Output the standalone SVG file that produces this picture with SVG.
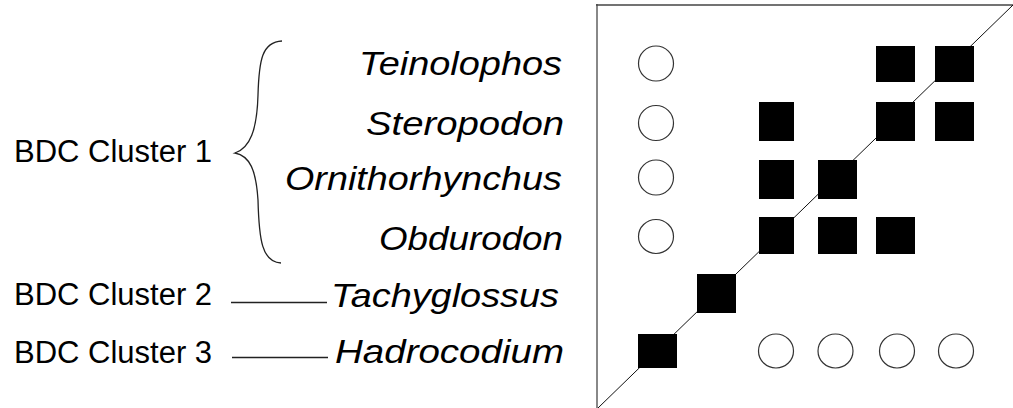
<svg xmlns="http://www.w3.org/2000/svg" width="1013" height="408" viewBox="0 0 1013 408">
<style>
.taxon{font-family:"Liberation Sans",Arial,sans-serif;font-style:italic;font-size:33px;fill:#000}
.clabel{font-family:"Liberation Sans",Arial,sans-serif;font-size:31px;fill:#000}
.sq{fill:#000}
.ci{fill:#fff;stroke:#333;stroke-width:1.2}
.conn{fill:none;stroke:#222;stroke-width:1.3}
</style>
<rect width="1013" height="408" fill="#fff"/>
<g id="frame">
<line x1="597" y1="4" x2="597" y2="408" stroke="#888" stroke-width="2"/>
<line x1="596" y1="5" x2="1013" y2="5" stroke="#444" stroke-width="1.6"/>
<line x1="1013" y1="5" x2="598" y2="408" stroke="#111" stroke-width="1"/>
</g>
<g id="connectors">
<path class="conn" d="M282,41 C262,42 259,60 258,95 C257,130 250,148 235,153 C250,156 256,170 258,200 C259,240 262,262 281,263"/>
<line class="conn" x1="231" y1="302.5" x2="327" y2="302.5"/>
<line class="conn" x1="232" y1="357.5" x2="328" y2="357.5"/>
</g>
<g id="labels">
<text class="clabel" x="14" y="162">BDC Cluster 1</text>
<text class="clabel" x="14" y="305">BDC Cluster 2</text>
<text class="clabel" x="14" y="363">BDC Cluster 3</text>
</g>
<g id="taxa">
<text id="teinolophos" class="taxon" x="359" y="75" textLength="203" lengthAdjust="spacingAndGlyphs">Teinolophos</text>
<text id="steropodon" class="taxon" x="366" y="135" textLength="198" lengthAdjust="spacingAndGlyphs">Steropodon</text>
<text id="ornithorhynchus" class="taxon" x="285" y="190" textLength="277" lengthAdjust="spacingAndGlyphs">Ornithorhynchus</text>
<text id="obdurodon" class="taxon" x="379" y="250" textLength="184" lengthAdjust="spacingAndGlyphs">Obdurodon</text>
<text id="tachyglossus" class="taxon" x="331" y="306.5" textLength="228" lengthAdjust="spacingAndGlyphs">Tachyglossus</text>
<text id="hadrocodium" class="taxon" x="335" y="362.5" textLength="229" lengthAdjust="spacingAndGlyphs">Hadrocodium</text>
</g>
<g id="matrix">
<ellipse class="ci" cx="656" cy="63.5" rx="17.5" ry="17.5"/>
<ellipse class="ci" cx="656" cy="123" rx="17.5" ry="17.5"/>
<ellipse class="ci" cx="656" cy="177.5" rx="17.5" ry="17.5"/>
<ellipse class="ci" cx="656" cy="236.5" rx="17.5" ry="17"/>
<ellipse class="ci" cx="776" cy="351" rx="17.5" ry="17"/>
<ellipse class="ci" cx="835.5" cy="351" rx="17.5" ry="17"/>
<ellipse class="ci" cx="897" cy="351" rx="17.5" ry="17"/>
<ellipse class="ci" cx="956" cy="351" rx="17.5" ry="17"/>
<rect class="sq" x="876" y="46" width="39" height="36"/>
<rect class="sq" x="935" y="46" width="39" height="36"/>
<rect class="sq" x="759" y="102" width="35" height="39"/>
<rect class="sq" x="876" y="102" width="39" height="39"/>
<rect class="sq" x="935" y="102" width="39" height="39"/>
<rect class="sq" x="759" y="160" width="35" height="39"/>
<rect class="sq" x="818" y="160" width="39" height="39"/>
<rect class="sq" x="759" y="217" width="35" height="37"/>
<rect class="sq" x="818" y="217" width="39" height="37"/>
<rect class="sq" x="876" y="217" width="39" height="37"/>
<rect class="sq" x="697" y="274" width="39" height="39"/>
<rect class="sq" x="638" y="334" width="39" height="34"/>
</g>
</svg>
